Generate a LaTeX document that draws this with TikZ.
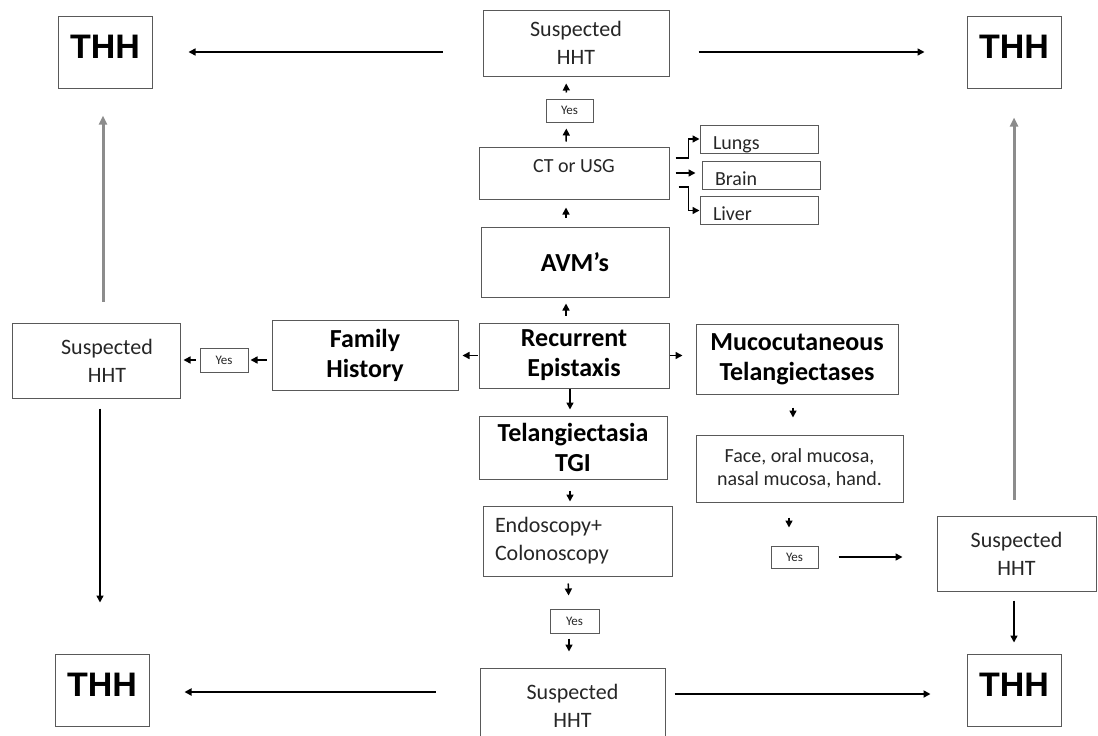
\documentclass[tikz,border=0pt]{standalone}
\usepackage{fontspec}
\setmainfont{Carlito}
\newfontfamily\thhfont{Liberation Sans}
\usetikzlibrary{arrows.meta}

\begin{document}
\begin{tikzpicture}[x=1pt, y=-1pt,
	box/.style={draw=black!65, line width=1pt, rectangle, align=center, text=black!85},
	thh/.style={box, text=black, minimum width=94pt, minimum height=72pt, text depth=10pt, font=\thhfont\bfseries\fontsize{34}{40}\selectfont},
	sus/.style={box, font=\fontsize{22}{28}\selectfont},
	big/.style={box, text=black, inner ysep=2pt, font=\bfseries\fontsize{26}{30}\selectfont},
	small/.style={box, font=\fontsize{20}{23}\selectfont},
	organ/.style={small, minimum width=118pt, minimum height=28pt, text width=92pt, align=left, inner xsep=13pt, inner ysep=0pt, text height=20pt, text depth=0pt},
	yes/.style={box, inner sep=0pt, font=\fontsize{13}{13}\selectfont},
	arr/.style={-{Triangle[length=7pt,width=7pt]}, line width=1.5},
	grayarr/.style={-{Triangle[length=9pt,width=8pt]}, line width=3, black!45}]
	\useasboundingbox (0,0) rectangle (1098,736);

	% outcome boxes
	\node[thh] (thhTL) at (105,52) {THH};
	\node[thh] (thhTR) at (1014,52) {THH};
	\node[thh] (thhBL) at (102,690) {THH};
	\node[thh] (thhBR) at (1014,690) {THH};

	% centre column
	\node[sus, minimum width=186pt, minimum height=66pt] (susTop) at (576,43) {Suspected\\HHT};
	\node[yes, minimum width=47pt, minimum height=23pt] (yesTop) at (569.5,110.5) {Yes};
	\node[small, minimum width=190pt, minimum height=52pt, text depth=14pt] (ct) at (574,173) {CT or USG};
	\node[organ] (lungs) at (759,139) {Lungs};
	\node[organ] (brain) at (761,175.5) {Brain};
	\node[organ] (liver) at (759,210.5) {Liver};
	\node[big, minimum width=188pt, minimum height=70pt] (avm) at (575,262) {AVM’s};
	\node[big, minimum width=190pt, minimum height=65pt] (recur) at (574,355.5) {Recurrent\\Epistaxis};
	\node[big, minimum width=188pt, minimum height=63pt] (telang) at (573,447.5) {Telangiectasia\\TGI};
	\node[sus, minimum width=189pt, minimum height=70pt, text width=165pt, align=left, inner xsep=12pt] (endo) at (577.5,541) {Endoscopy+\\Colonoscopy};
	\node[yes, minimum width=49pt, minimum height=24pt] (yesB) at (574.5,621) {Yes};
	\node[sus, minimum width=185pt, minimum height=75pt] (susB) at (572.5,705.5) {Suspected\\HHT};

	% left branch
	\node[big, minimum width=186pt, minimum height=70pt] (famhist) at (365,355) {Family\\History};
	\node[yes, minimum width=48pt, minimum height=24pt] (yesL) at (224,360) {Yes};
	\node[sus, minimum width=168pt, minimum height=75pt] (susL) at (96,360.5) {\hspace*{22pt}Suspected\\\hspace*{22pt}HHT};

	% right branch
	\node[big, minimum width=202pt, minimum height=70pt] (mucoc) at (797,359) {Mucocutaneous\\Telangiectases};
	\node[small, minimum width=207pt, minimum height=67pt] (face) at (799.5,468.5) {Face, oral mucosa,\\nasal mucosa, hand.};
	\node[yes, minimum width=47pt, minimum height=22pt] (yesR) at (794.5,557) {Yes};
	\node[sus, minimum width=159pt, minimum height=75pt] (susR) at (1016.5,553.5) {Suspected\\HHT};

	% upward chain
	\draw[arr, shorten <=7pt, shorten >=6pt] ([xshift=-8pt]recur.north) -- ([xshift=-9pt]avm.south);
	\draw[arr, shorten <=9pt, shorten >=8pt] ([xshift=-9pt]avm.north) -- ([xshift=-8pt]ct.south);
	\draw[arr, shorten <=5pt, shorten >=6pt] ([xshift=-8pt]ct.north) -- ([xshift=-3pt]yesTop.south);
	\draw[arr, shorten <=6pt, shorten >=7pt] ([xshift=-3pt]yesTop.north) -- ([xshift=-10pt]susTop.south);
	\draw[arr] ([xshift=6pt,yshift=15pt]ct.east) -- ++(13,0) |- (lungs.west);
	\draw[arr, shorten <=6pt, shorten >=6pt] (ct.east) -- (ct.east -| brain.west);
	\draw[arr] ([xshift=9pt,yshift=-14pt]ct.east) -- ++(10,0) |- (liver.west);

	% sideways and downward
	\draw[arr, shorten <=1pt, shorten >=4pt] (recur.west) -- (recur.west -| famhist.east);
	\draw[arr, shorten <=5pt, shorten >=2pt] (yesL.east -| famhist.west) -- (yesL.east);
	\draw[arr, shorten <=4pt, shorten >=3pt] (yesL.west) -- (yesL.west -| susL.east);
	\draw[arr, shorten >=13pt] (recur.east) -- (recur.east -| mucoc.west);
	\draw[arr, shorten >=6pt] ([xshift=-4pt]recur.south) -- ([xshift=-3pt]telang.north);
	\draw[arr, shorten <=11pt, shorten >=4pt] ([xshift=-3pt]telang.south) -- ([xshift=-7.5pt]endo.north);
	\draw[arr, shorten <=7pt, shorten >=13pt] ([xshift=-9.5pt]endo.south) -- ([xshift=-5.5pt]yesB.north);
	\draw[arr, shorten <=5pt, shorten >=16pt] ([xshift=-5.5pt]yesB.south) -- ([xshift=-3.5pt]susB.north);
	\draw[arr, shorten <=13pt, shorten >=17pt] ([xshift=-4pt]mucoc.south) -- ([xshift=-6.5pt]face.north);
	\draw[arr, shorten <=15pt, shorten >=18pt] ([xshift=-10.5pt]face.south) -- ([xshift=-5.5pt]yesR.north);
	\draw[arr, shorten <=20pt, shorten >=34pt] (yesR.east) -- (yesR.east -| susR.west);

	% to THH
	\draw[arr, shorten <=9pt, shorten >=11pt] ([xshift=-2.5pt]susR.south) -- (thhBR.north);
	\draw[grayarr, shorten <=16pt, shorten >=29pt] (thhTR.south |- susR.north) -- (thhTR.south);
	\draw[grayarr, shorten <=21pt, shorten >=27pt] ([xshift=-2pt]thhTL.south |- susL.north) -- ([xshift=-2pt]thhTL.south);
	\draw[arr, shorten <=10pt, shorten >=51pt] ([xshift=-2pt]thhBL.north |- susL.south) -- ([xshift=-2pt]thhBL.north);
	\draw[arr, shorten <=40pt, shorten >=36pt] (thhTL.east -| susTop.west) -- (thhTL.east);
	\draw[arr, shorten <=29pt, shorten >=42pt] (thhTR.west -| susTop.east) -- (thhTR.west);
	\draw[arr, line width=2, shorten <=44pt, shorten >=35pt] ([yshift=-2pt]thhBL.east -| susB.west) -- ([yshift=-2pt]thhBL.east);
	\draw[arr, line width=2, shorten <=9pt, shorten >=36pt] ([yshift=-4pt]thhBR.west -| susB.east) -- ([yshift=-4pt]thhBR.west);
\end{tikzpicture}
\end{document}
